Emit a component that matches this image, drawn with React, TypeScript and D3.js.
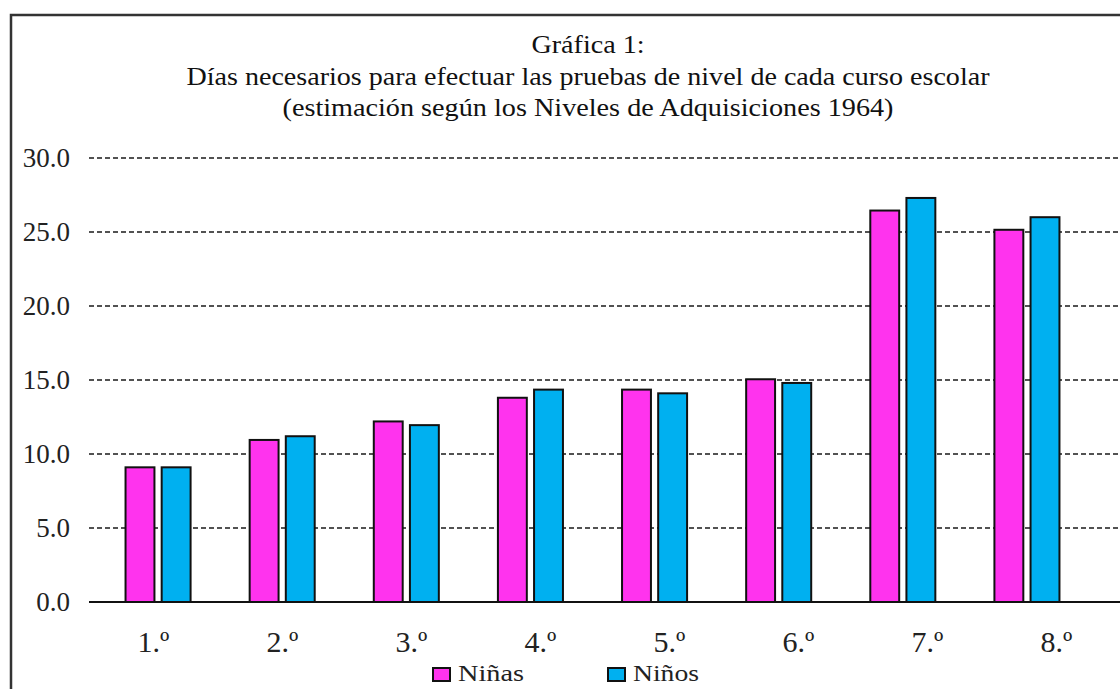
import React from "react";
import * as d3 from "d3";

const categories = ["1.º", "2.º", "3.º", "4.º", "5.º", "6.º", "7.º", "8.º"];
const seriesNames = ["Niñas", "Niños"];
const ninas = [9.1, 10.95, 12.2, 13.8, 14.35, 15.05, 26.45, 25.15];
const ninos = [9.1, 11.2, 11.95, 14.35, 14.1, 14.8, 27.3, 26.0];
const yTicks = [0, 5, 10, 15, 20, 25, 30];
const titleLines = [
  "Gráfica 1:",
  "Días necesarios para efectuar las pruebas de nivel de cada curso escolar",
  "(estimación según los Niveles de Adquisiciones 1964)",
];
const colors = ["#FF33EE", "#00B0F0"];

const W = 1120;
const H = 689;
const FONT = "'Liberation Serif', 'Times New Roman', serif";

export default function App() {
  const y = d3.scaleLinear().domain([0, 30]).range([602, 158]);
  const xLabels = d3.scaleBand<string>().domain(categories).range([89, 1121]);
  const xBars = d3
    .scaleBand<string>()
    .domain(categories)
    .range([96, 1089])
    .paddingInner(0.476)
    .paddingOuter(0.238);
  const xSub = d3
    .scaleBand<string>()
    .domain(seriesNames)
    .range([0, xBars.bandwidth()])
    .paddingInner(0.2);
  const values = [ninas, ninos];
  const titleY = [53, 85, 116];
  const titleLen = [113, 803, 611];
  const legendLen = [66, 66];

  return (
    <svg
      width={W}
      height={H}
      style={{ position: "absolute", left: 0, top: 0, background: "#fff" }}
      fontFamily={FONT}
    >
      <rect x={0} y={0} width={W} height={H} fill="#fff" />
      <rect x={11} y={15} width={1200} height={800} fill="none" stroke="#333" strokeWidth={2.5} />
      {titleLines.map((t, i) => (
        <text
          key={i}
          x={588}
          y={titleY[i]}
          textAnchor="middle"
          fontSize={26}
          fill="#111"
          textLength={titleLen[i]}
          lengthAdjust="spacingAndGlyphs"
        >
          {t}
        </text>
      ))}
      {yTicks.slice(1).map((t) => (
        <line
          key={t}
          x1={89}
          x2={1121}
          y1={y(t)}
          y2={y(t)}
          stroke="#1a1a1a"
          strokeWidth={1.6}
          strokeDasharray="5 3"
        />
      ))}
      {yTicks.map((t) => (
        <text
          key={"l" + t}
          x={70}
          y={y(t)}
          dy="0.35em"
          textAnchor="end"
          fontSize={27}
          fill="#222"
        >
          {d3.format(".1f")(t)}
        </text>
      ))}
      {categories.map((c, i) =>
        values.map((vals, s) => {
          const x0 = (xBars(c) as number) + (xSub(seriesNames[s]) as number);
          return (
            <rect
              key={c + s}
              x={x0}
              y={y(vals[i])}
              width={xSub.bandwidth()}
              height={y(0) - y(vals[i])}
              fill={colors[s]}
              stroke="#111"
              strokeWidth={2}
            />
          );
        })
      )}
      <line x1={89} x2={1121} y1={y(0)} y2={y(0)} stroke="#111" strokeWidth={2} />
      {categories.map((c) => (
        <text
          key={"x" + c}
          x={(xLabels(c) as number) + xLabels.bandwidth() / 2}
          y={652}
          textAnchor="middle"
          fontSize={30}
          fill="#222"
        >
          {c}
        </text>
      ))}
      {seriesNames.map((n, i) => {
        const lx = [433, 608][i];
        return (
          <g key={n}>
            <rect x={lx} y={668} width={17} height={13} fill={colors[i]} stroke="#111" strokeWidth={2} />
            <text
              x={lx + 25}
              y={681}
              fontSize={24}
              fill="#222"
              textLength={legendLen[i]}
              lengthAdjust="spacingAndGlyphs"
            >
              {n}
            </text>
          </g>
        );
      })}
    </svg>
  );
}
